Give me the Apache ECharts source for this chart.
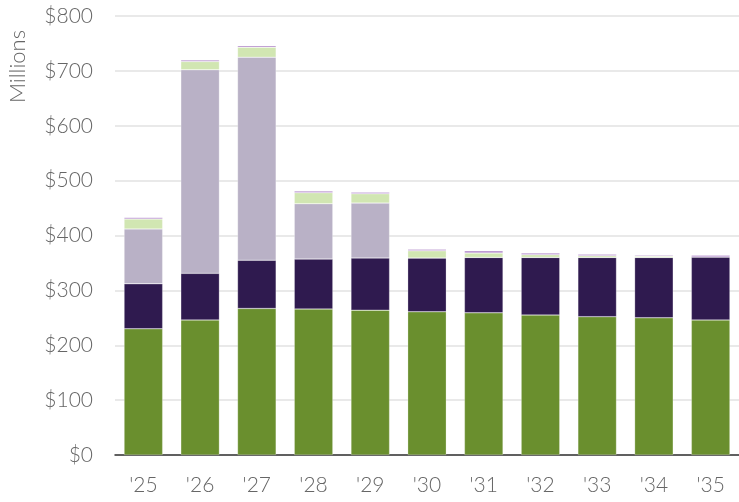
<!DOCTYPE html>
<html><head><meta charset="utf-8">
<script src="https://cdn.jsdelivr.net/npm/echarts@6/dist/echarts.min.js"></script>
<style>html,body{margin:0;padding:0;background:#fff}#c{width:739px;height:502px}</style>
</head><body><div id="c"></div>
<script>
const years = ["'25","'26","'27","'28","'29","'30","'31","'32","'33","'34","'35"];
const seriesGreen = [230, 246, 267, 266, 264, 261, 259, 255, 252, 250, 246];
const seriesDarkPurple = [82, 85, 88, 91, 95, 98, 101, 105, 108, 110, 115];
const seriesLightPurple = [100, 371, 370, 101, 100, 0, 0, 0, 0, 0, 0];
const seriesLightGreen = [18, 15, 18, 20, 17, 13, 8, 5, 3, 2, 0];
const seriesTopPurple = [3, 3, 3, 3, 3, 3, 4, 3, 3, 2, 3];
const yTicks = [0, 100, 200, 300, 400, 500, 600, 700, 800];

const colors = ['#6a8f2e', '#2f1a4f', '#b9b1c6', '#d1e6b2', '#b38bcb'];
const datas = [seriesGreen, seriesDarkPurple, seriesLightPurple, seriesLightGreen, seriesTopPurple];
const font = 'Lato, "Open Sans", sans-serif';

const chart = echarts.init(document.getElementById('c'), null, {renderer: 'canvas'});
chart.setOption({
  animation: false,
  grid: {left: 115, top: 16, bottom: 47, width: 629, containLabel: false},
  xAxis: {
    type: 'category', data: years,
    axisLine: {show: true, lineStyle: {color: '#333', width: 1.5}},
    axisTick: {show: false},
    axisLabel: {color: '#666', fontSize: 21, fontWeight: 300, fontFamily: font, margin: 20}
  },
  yAxis: {
    type: 'value', min: yTicks[0], max: yTicks[yTicks.length - 1], interval: 100,
    axisLine: {show: false}, axisTick: {show: false},
    splitLine: {lineStyle: {color: '#e2e2e2', width: 1.5}},
    axisLabel: {color: '#666', fontSize: 21, fontWeight: 300, fontFamily: font, margin: 22,
      formatter: v => '$' + v}
  },
  graphic: [{
    type: 'text', x: 18, y: 103, rotation: Math.PI / 2,
    style: {text: 'Millions', fill: '#666', fontSize: 22, fontWeight: 300, fontFamily: font,
      align: 'left', verticalAlign: 'middle'}
  }],
  series: datas.map((d, i) => ({
    type: 'bar', stack: 'total', data: d, barWidth: '68%',
    itemStyle: {color: colors[i], borderColor: 'rgba(255,255,255,0.5)', borderWidth: 0.5}
  }))
});
</script></body></html>
